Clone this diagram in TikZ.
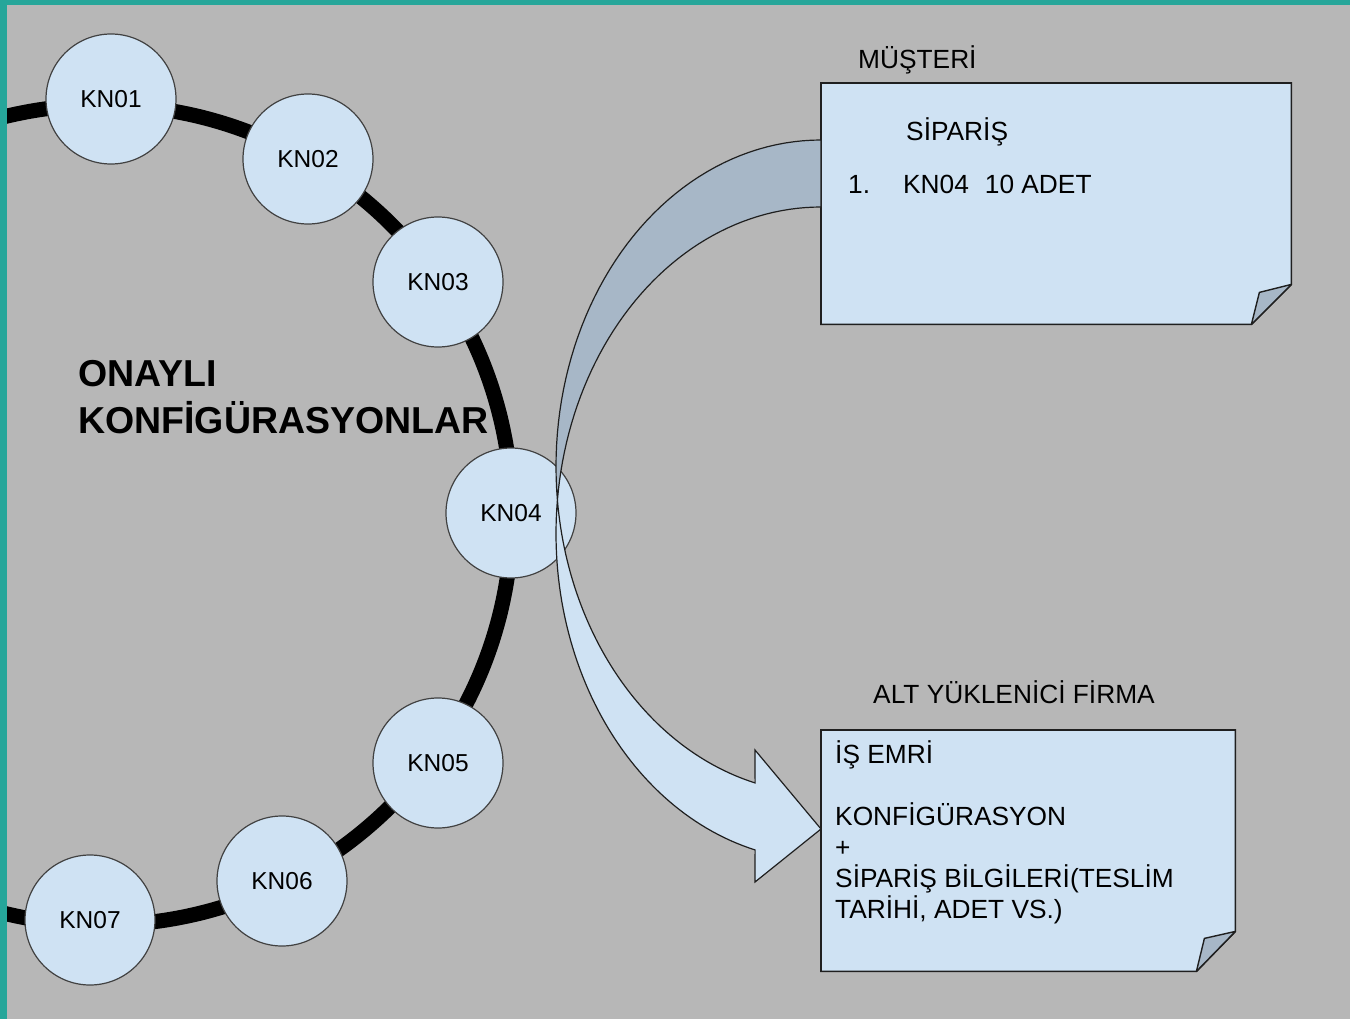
\documentclass[tikz,border=0pt]{standalone}
\usepackage{fontspec}
\setmainfont{Liberation Sans}
\usepackage{tikz}
\usepackage{xcolor}
\definecolor{canvas}{HTML}{B7B7B7}
\definecolor{frame}{HTML}{26A69A}
\definecolor{ink}{HTML}{1F1F1F}
\definecolor{paleblue}{HTML}{CFE2F3}
\definecolor{shadeblue}{HTML}{A7B7C7}
\tikzset{
  confnode/.style={circle,draw=ink!85,fill=paleblue,line width=1.2pt,
                   minimum size=130pt,inner sep=0pt,
                   font=\fontsize{24.5}{29}\selectfont},
  notebox/.style={minimum width=#1,minimum height=241pt,inner sep=0pt,
                  anchor=north west},
  note/.style={draw=ink,fill=paleblue,line width=1.6pt},
  foldcorner/.style={draw=ink,fill=shadeblue,line width=1.4pt,line join=round},
  notetext/.style={inner sep=0pt,anchor=base west,align=left,
                   font=\fontsize{26.3}{31}\selectfont},
  ring/.style={draw=black,line width=15pt},
  bandback/.style={draw=ink,fill=shadeblue,line width=1.2pt},
  bandfront/.style={draw=ink,fill=paleblue,line width=1.2pt},
  bigtitle/.style={inner sep=0pt,anchor=base west,align=left,
                   font=\fontsize{37.5}{47}\bfseries\selectfont}
}

\begin{document}
\begin{tikzpicture}[x=1pt,y=-1pt]
    \path[use as bounding box] (0,0) rectangle (1350,1019);
    \fill[frame] (0,0) rectangle (1350,1019);
    \fill[canvas] (7,5) rectangle (1350,1019);

    % ring of approved configurations
    \begin{scope}
      \clip (7,5) rectangle (1350,1019);
      \draw[ring] (102,515) circle[radius=410];
    \end{scope}
    \node[confnode] (kn01) at (111,99) {KN01};
    \node[confnode] (kn02) at (308,159) {KN02};
    \node[confnode] (kn03) at (438,282) {KN03};
    \node[confnode] (kn04) at (511,513) {KN04};
    \node[confnode] (kn05) at (438,763) {KN05};
    \node[confnode] (kn06) at (282,881) {KN06};
    \node[confnode] (kn07) at (90,920) {KN07};
    % base of a multi-line node = last line
    \node[bigtitle] (approved) at (78,433) {ONAYLI\\KONFİGÜRASYONLAR};

    % customer order
    \node[notetext] (customer) at (858,69) {MÜŞTERİ};
    \node[notebox=470pt] (order) at (821,83) {};
    \draw[note] (order.north west) -- (order.north east)
      -- ([yshift=40pt]order.south east) -- ([xshift=-40pt]order.south east)
      -- (order.south west) -- cycle;
    \draw[foldcorner] ([xshift=-40pt]order.south east)
      -- ([xshift=-32pt,yshift=32pt]order.south east)
      -- ([yshift=40pt]order.south east) -- cycle;
    \node[notetext] (ordertitle) at (906,141) {SİPARİŞ};
    \node[notetext] (orderline) at (848,194)
      {1.\hspace{33pt}KN04\hspace{16pt}10 ADET};

    % subcontractor work order
    \node[notetext] (supplier) at (873,703) {ALT YÜKLENİCİ FİRMA};
    \node[notebox=414pt] (workorder) at (821,730) {};
    \draw[note] (workorder.north west) -- (workorder.north east)
      -- ([yshift=40pt]workorder.south east) -- ([xshift=-39pt]workorder.south east)
      -- (workorder.south west) -- cycle;
    \draw[foldcorner] ([xshift=-39pt]workorder.south east)
      -- ([xshift=-31pt,yshift=33pt]workorder.south east)
      -- ([yshift=40pt]workorder.south east) -- cycle;
    \node[notetext] (workbody) at (835,918)
      {İŞ EMRİ\\[31pt]KONFİGÜRASYON\\+\\SİPARİŞ BİLGİLERİ(TESLİM\\TARİHİ, ADET VS.)};

    % curved arrow from the order through KN04 to the work order
    \coordinate (bend) at (order.west |- 0,466.6);
    \begin{scope}[shift={(bend)}]
      \filldraw[bandback]
        plot[domain=270:174.1,samples=50,variable=\t] ({265*cos(\t)},{326.6*sin(\t)})
        -- plot[domain=185.9:270,samples=50,variable=\t] ({265*cos(\t)},{67+326.6*sin(\t)})
        -- cycle;
      \filldraw[bandfront]
        plot[domain=185.9:104.4,samples=60,variable=\t] ({265*cos(\t)},{67+326.6*sin(\t)})
        -- (-66,415.4) -- (0,362.4) -- (-66,283.4)
        -- plot[domain=104.4:174.1,samples=60,variable=\t] ({265*cos(\t)},{326.6*sin(\t)})
        -- cycle;
    \end{scope}
  \end{tikzpicture}
\end{document}
